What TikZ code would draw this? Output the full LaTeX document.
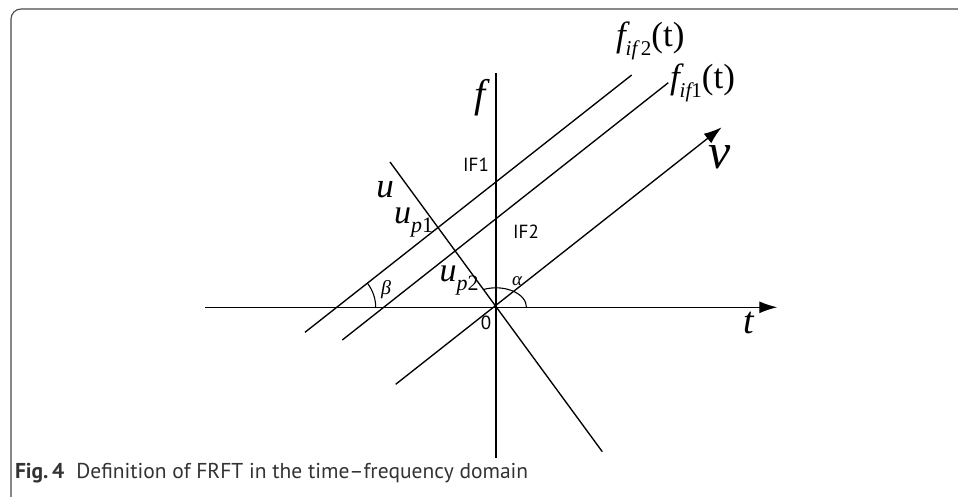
\documentclass[tikz,border=0pt]{standalone}
\usepackage{fontspec}
\setmainfont{Liberation Serif}
\newfontfamily\capfont{PT Sans}
\usetikzlibrary{arrows.meta}
\definecolor{framecol}{HTML}{4A4A4A}
\definecolor{capcol}{HTML}{333333}
\newcommand\fs[1]{\fontsize{#1}{#1}\selectfont}
\begin{document}
\begin{tikzpicture}[x=1pt,y=-1pt,
  axis/.style={line width=1.35pt,black},
  arrowaxis/.style={axis,-{Latex[length=18pt,width=12pt]}},
  lbl/.style={inner sep=0pt,outer sep=0pt},
  sanslbl/.style={lbl,font=\capfont\fs{19}}]
\useasboundingbox (0,0) rectangle (958,497);
% frame
\draw[framecol,line width=1.1pt,rounded corners=10pt] (11,497) -- (11,9) -- (958,9);
% coordinates
\coordinate (O) at (496,307.3);
\coordinate (tL) at (205,307.3);
\coordinate (tR) at (777.3,307.3);
\coordinate (fT) at (496,73.3);
\coordinate (fB) at (496,457.5);
\coordinate (vB) at (395.7,384.3);
\coordinate (vT) at (721.7,127.3);
\coordinate (uT) at (390,162);
\coordinate (uB) at (602.3,451.7);
\coordinate (aB) at (305,332.3);
\coordinate (aT) at (631.7,75);
\coordinate (bB) at (342.3,340);
\coordinate (bT) at (668.3,82.7);
\coordinate (betaC) at (336.7,307.3);
% lines
\draw[arrowaxis] (tL) -- (tR);
\draw[axis] (fT) -- (fB);
\draw[arrowaxis] (vB) -- (vT);
\draw[axis] (uT) -- (uB);
\draw[axis] (aB) -- (aT);
\draw[axis] (bB) -- (bT);
% arcs
\draw[axis,line width=1.1pt] ([xshift=39pt]betaC) arc[start angle=0,end angle=-38,radius=39];
\draw[axis,line width=1.1pt] ([xshift=30.5pt]O) arc[start angle=0,end angle=-114,x radius=30.5,y radius=19.5];
% labels
\node[lbl] (lf) at (480,97.5) {\fs{40}\itshape f};
\node[lbl] (lv) at (720,157) {\fs{50}\itshape v};
\node[lbl] (lt) at (748.3,323.3) {\fs{38}\itshape t};
\node[lbl] (lu) at (385,190) {\fs{35}\itshape u};
\node[lbl,anchor=base west] (lup1) at (394,223.3) {\fs{34}\itshape u\raisebox{-9pt}{\fs{22}p\upshape 1}};
\node[lbl,anchor=base west] (lup2) at (439.5,281.7) {\fs{34}\itshape u\raisebox{-9pt}{\fs{22}p\upshape 2}};
\node[lbl,anchor=base west] (lf2) at (616,47) {\fs{35}\itshape f\raisebox{-9pt}{\fs{21}if\,\upshape 2}\upshape(t)};
\node[lbl,anchor=base west] (lf1) at (670,89) {\fs{35}\itshape f\raisebox{-9pt}{\fs{21}if\upshape 1}\upshape(t)};
\node[sanslbl] (IF1) at (476,165) {IF1};
\node[sanslbl] (IF2) at (526,232) {IF2};
\node[sanslbl] (l0) at (486,322.5) {0};
\node[lbl] (beta) at (386,290) {\fs{20}\itshape β};
\node[lbl] (alpha) at (517,281) {\fs{19}\itshape α};
% caption
\node[lbl,anchor=base west,text=capcol] (cap) at (15,478) {\capfont\fs{21.5}\bfseries Fig.\,4\hspace{12pt}\mdseries Definition of FRFT in the time–frequency domain};
\end{tikzpicture}
\end{document}
